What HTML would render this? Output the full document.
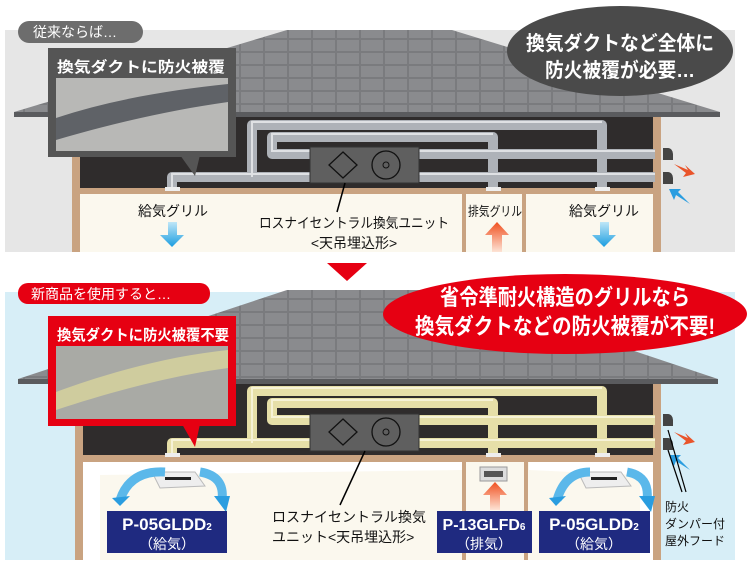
<!DOCTYPE html>
<html><head><meta charset="utf-8"><style>
body{margin:0;width:750px;height:569px;overflow:hidden;background:#fff}
svg{display:block}
text{font-family:"Liberation Sans","Noto Sans CJK JP",sans-serif}
</style></head><body>
<svg width="750" height="569" viewBox="0 0 750 569" xmlns="http://www.w3.org/2000/svg">
<defs>
<pattern id="tile" width="24" height="13" patternUnits="userSpaceOnUse">
<rect width="24" height="13" fill="#7a7b7e"/>
<rect x="1" y="1" width="22" height="11" fill="#8a8b8e"/>
</pattern>
<linearGradient id="bl" x1="0" y1="0" x2="0" y2="1"><stop offset="0" stop-color="#bfe6f7"/><stop offset="1" stop-color="#1a9de0"/></linearGradient>
<linearGradient id="or" x1="0" y1="1" x2="0" y2="0"><stop offset="0" stop-color="#fde3d5"/><stop offset="1" stop-color="#f05020"/></linearGradient>
</defs>

<!-- TOP PANEL -->
<rect x="5" y="30" width="730" height="222" fill="#e6e6e6"/>
<polygon points="287,30 452,30 720,112 720,117 14,117 14,112" fill="url(#tile)"/>
<rect x="14" y="112" width="706" height="5" fill="#5a5b5e"/>
<rect x="75" y="117" width="585" height="73" fill="#2f2c2c"/>
<rect x="72" y="117" width="8" height="135" fill="#c9a381"/>
<rect x="653" y="117" width="8" height="135" fill="#c9a381"/>
<rect x="72" y="188" width="589" height="6" fill="#c9a381"/>
<rect x="80" y="194" width="573" height="58" fill="#fbf8ee"/>
<rect x="462" y="194" width="4" height="58" fill="#c9a381"/>
<rect x="522" y="194" width="4" height="58" fill="#c9a381"/>
<g fill="none" stroke="#aeb2b8" stroke-width="10" stroke-linejoin="round">
<path d="M172,190 V177 H310"/>
<path d="M252,177 V125 H602 V190"/>
<path d="M310,154 H272 V137 H493 V190"/>
<path d="M419,154 H655 M419,177 H655"/>
</g>
<g fill="none" stroke="#dfe1e4" stroke-width="2">
<path d="M172,188 V174 H310 M252,177 V122 H602 M310,151 H272 V134 H493 M419,151 H655 M419,174 H655"/>
</g>
<rect x="165" y="187" width="15" height="4" fill="#eee"/><rect x="486" y="187" width="15" height="4" fill="#eee"/><rect x="595" y="187" width="15" height="4" fill="#eee"/>
<rect x="310" y="147" width="109" height="36" fill="#5f5f5f" stroke="#333"/>
<polygon points="343,152 357,165 343,178 329,165" fill="none" stroke="#111" stroke-width="1.3"/>
<circle cx="386" cy="165" r="14" fill="none" stroke="#111" stroke-width="1.3"/><circle cx="386" cy="165" r="3" fill="none" stroke="#111"/>
<path d="M663,148 h5 a5,6 0 0 1 5,6 v6 h-10z M663,172 h5 a5,6 0 0 1 5,6 v6 h-10z" fill="#444"/>
<path d="M674,164 l14,6 l-3,-5 l10,9 l-12,3 l3,-4 z" fill="#e9542a"/>
<path d="M690,204 l-14,-9 l-2,5 l-5,-11 l12,0 l-3,3 z" fill="#2a9de0"/>
<line x1="345" y1="183" x2="337" y2="212" stroke="#000" stroke-width="1.5"/>
<polygon points="180,155 200,155 195,176" fill="#555"/>
<rect x="48" y="48" width="188" height="109" fill="#555"/>
<rect x="56" y="78" width="172" height="73" fill="#b8b8b6"/>
<path d="M56,118 C110,100 170,90 228,84 L228,102 C170,110 110,124 56,140 Z" fill="#5f6267"/>
<text x="57" y="72" font-size="15" font-weight="bold" fill="#fff" textLength="168" lengthAdjust="spacingAndGlyphs">換気ダクトに防火被覆</text>
<rect x="18" y="21" width="125" height="22" rx="11" fill="#6d6d6d"/>
<text x="33" y="37" font-size="14" fill="#fff">従来ならば…</text>
<ellipse cx="620" cy="51" rx="113" ry="45" fill="#4a4a4a"/>
<text x="620" y="50" font-size="20" font-weight="bold" fill="#fff" text-anchor="middle" textLength="188" lengthAdjust="spacingAndGlyphs">換気ダクトなど全体に</text>
<text x="620" y="77" font-size="20" font-weight="bold" fill="#fff" text-anchor="middle" textLength="150" lengthAdjust="spacingAndGlyphs">防火被覆が必要…</text>
<text x="173" y="216" font-size="14" text-anchor="middle" fill="#111">給気グリル</text>
<polygon points="168,222 177,222 177,235 184,235 172,247 160,235 168,235" fill="url(#bl)"/>
<text x="354" y="228" font-size="14" text-anchor="middle" fill="#111" textLength="190" lengthAdjust="spacingAndGlyphs">ロスナイセントラル換気ユニット</text>
<text x="354" y="248" font-size="14" text-anchor="middle" fill="#111">&lt;天吊埋込形&gt;</text>
<text x="495" y="216" font-size="13" text-anchor="middle" fill="#111" textLength="54" lengthAdjust="spacingAndGlyphs">排気グリル</text>
<polygon points="492,252 502,252 502,235 509,235 497,222 485,235 492,235" fill="url(#or)"/>
<text x="604" y="216" font-size="14" text-anchor="middle" fill="#111">給気グリル</text>
<polygon points="600,222 609,222 609,235 616,235 604,247 592,235 600,235" fill="url(#bl)"/>
<polygon points="327,263 367,263 347,281" fill="#e60012"/>

<!-- BOTTOM PANEL -->
<rect x="5" y="292" width="730" height="268" fill="#d7eef7"/>
<polygon points="287,290 452,290 718,379 718,384 18,384 18,379" fill="url(#tile)"/>
<rect x="18" y="379" width="700" height="5" fill="#5a5b5e"/>
<rect x="80" y="384" width="575" height="72" fill="#2f2c2c"/>
<rect x="75" y="384" width="8" height="176" fill="#c9a381"/>
<rect x="653" y="384" width="8" height="176" fill="#c9a381"/>
<rect x="75" y="455" width="586" height="7" fill="#c9a381"/>
<rect x="83" y="462" width="570" height="98" fill="#fbf8ee"/>
<polygon points="83,462 462,462 462,470 100,475 100,560 83,560" fill="#fff"/>
<polygon points="529,462 653,462 653,560 640,560 640,475 529,470" fill="#fff"/>
<rect x="462" y="462" width="4" height="98" fill="#c9a381"/>
<rect x="524" y="462" width="4" height="98" fill="#c9a381"/>
<g fill="none" stroke="#e6dfa8" stroke-width="10" stroke-linejoin="round">
<path d="M172,456 V443 H310"/>
<path d="M252,443 V391 H602 V456"/>
<path d="M310,420 H272 V403 H493 V456"/>
<path d="M419,420 H655 M419,443 H655"/>
</g>
<g fill="none" stroke="#f6f2d6" stroke-width="2">
<path d="M172,454 V440 H310 M252,443 V388 H602 M310,417 H272 V400 H493 M419,417 H655 M419,440 H655"/>
</g>
<rect x="165" y="453" width="15" height="4" fill="#eee"/><rect x="486" y="453" width="15" height="4" fill="#eee"/><rect x="595" y="453" width="15" height="4" fill="#eee"/>
<rect x="310" y="414" width="109" height="37" fill="#5f5f5f" stroke="#333"/>
<polygon points="343,419 357,432 343,445 329,432" fill="none" stroke="#111" stroke-width="1.3"/>
<circle cx="386" cy="432" r="14" fill="none" stroke="#111" stroke-width="1.3"/><circle cx="386" cy="432" r="3" fill="none" stroke="#111"/>
<path d="M663,414 h5 a5,6 0 0 1 5,6 v6 h-10z M663,438 h5 a5,6 0 0 1 5,6 v6 h-10z" fill="#444"/>
<path d="M674,432 l14,6 l-3,-5 l10,9 l-12,3 l3,-4 z" fill="#e9542a"/>
<path d="M690,470 l-14,-9 l-2,5 l-5,-11 l12,0 l-3,3 z" fill="#2a9de0"/>
<line x1="668" y1="430" x2="686" y2="492" stroke="#000" stroke-width="1.2"/>
<line x1="668" y1="450" x2="682" y2="492" stroke="#000" stroke-width="1.2"/>
<line x1="365" y1="451" x2="340" y2="505" stroke="#000" stroke-width="1.5"/>
<polygon points="152,472 195,472 205,486 160,488" fill="#eee" stroke="#bbb"/><rect x="165" y="477" width="26" height="3" fill="#222"/>
<path d="M120,500 Q130,470 165,472" fill="none" stroke="#5bb8ea" stroke-width="9"/>
<polygon points="112,498 130,496 120,506" fill="#2a9de0"/>
<path d="M200,472 Q225,476 222,500" fill="none" stroke="#5bb8ea" stroke-width="9"/>
<polygon points="214,496 230,496 226,512" fill="#2a9de0"/>
<polygon points="578,472 621,472 631,486 586,488" fill="#eee" stroke="#bbb"/><rect x="591" y="477" width="26" height="3" fill="#222"/>
<path d="M557,500 Q565,472 590,472" fill="none" stroke="#5bb8ea" stroke-width="9"/>
<polygon points="549,498 566,496 556,506" fill="#2a9de0"/>
<path d="M627,472 Q650,476 647,500" fill="none" stroke="#5bb8ea" stroke-width="9"/>
<polygon points="639,496 655,496 651,512" fill="#2a9de0"/>
<rect x="480" y="467" width="27" height="14" fill="#ddd" stroke="#999"/><rect x="484" y="471" width="19" height="6" fill="#555"/>
<polygon points="490,510 500,510 500,495 507,495 495,482 483,495 490,495" fill="url(#or)"/>
<rect x="107" y="511" width="120" height="42" fill="#1f2a80"/>
<text x="167" y="530" font-size="17" font-weight="bold" fill="#fff" text-anchor="middle">P-05GLDD<tspan font-size="10">2</tspan></text>
<text x="167" y="549" font-size="14" fill="#fff" text-anchor="middle">（給気）</text>
<rect x="437" y="511" width="95" height="42" fill="#1f2a80"/>
<text x="484" y="530" font-size="16" font-weight="bold" fill="#fff" text-anchor="middle">P-13GLFD<tspan font-size="10">6</tspan></text>
<text x="484" y="549" font-size="14" fill="#fff" text-anchor="middle">（排気）</text>
<rect x="539" y="511" width="111" height="42" fill="#1f2a80"/>
<text x="594" y="530" font-size="17" font-weight="bold" fill="#fff" text-anchor="middle">P-05GLDD<tspan font-size="10">2</tspan></text>
<text x="594" y="549" font-size="14" fill="#fff" text-anchor="middle">（給気）</text>
<text x="272" y="522" font-size="14" fill="#111">ロスナイセントラル換気</text>
<text x="272" y="542" font-size="14" fill="#111">ユニット&lt;天吊埋込形&gt;</text>
<text x="665" y="511" font-size="12" fill="#111">防火</text>
<text x="665" y="528" font-size="12" fill="#111">ダンパー付</text>
<text x="665" y="545" font-size="12" fill="#111">屋外フード</text>
<polygon points="182,424 200,424 195,447" fill="#e60012"/>
<rect x="48" y="316" width="188" height="110" fill="#e60012"/>
<rect x="56" y="346" width="172" height="73" fill="#a9aaa5"/>
<path d="M56,392 C110,372 170,356 228,350 L228,368 C170,376 110,392 56,410 Z" fill="#cfcc9e"/>
<text x="57" y="340" font-size="15" font-weight="bold" fill="#fff" textLength="172" lengthAdjust="spacingAndGlyphs">換気ダクトに防火被覆不要</text>
<rect x="18" y="283" width="192" height="21" rx="10" fill="#e60012"/>
<text x="31" y="299" font-size="14" fill="#fff">新商品を使用すると…</text>
<ellipse cx="565" cy="314" rx="182" ry="40" fill="#e60012"/>
<text x="565" y="305" font-size="22" font-weight="bold" fill="#fff" text-anchor="middle" textLength="250" lengthAdjust="spacingAndGlyphs">省令準耐火構造のグリルなら</text>
<text x="565" y="334" font-size="22" font-weight="bold" fill="#fff" text-anchor="middle" textLength="300" lengthAdjust="spacingAndGlyphs">換気ダクトなどの防火被覆が不要!</text>
</svg>
</body></html>
